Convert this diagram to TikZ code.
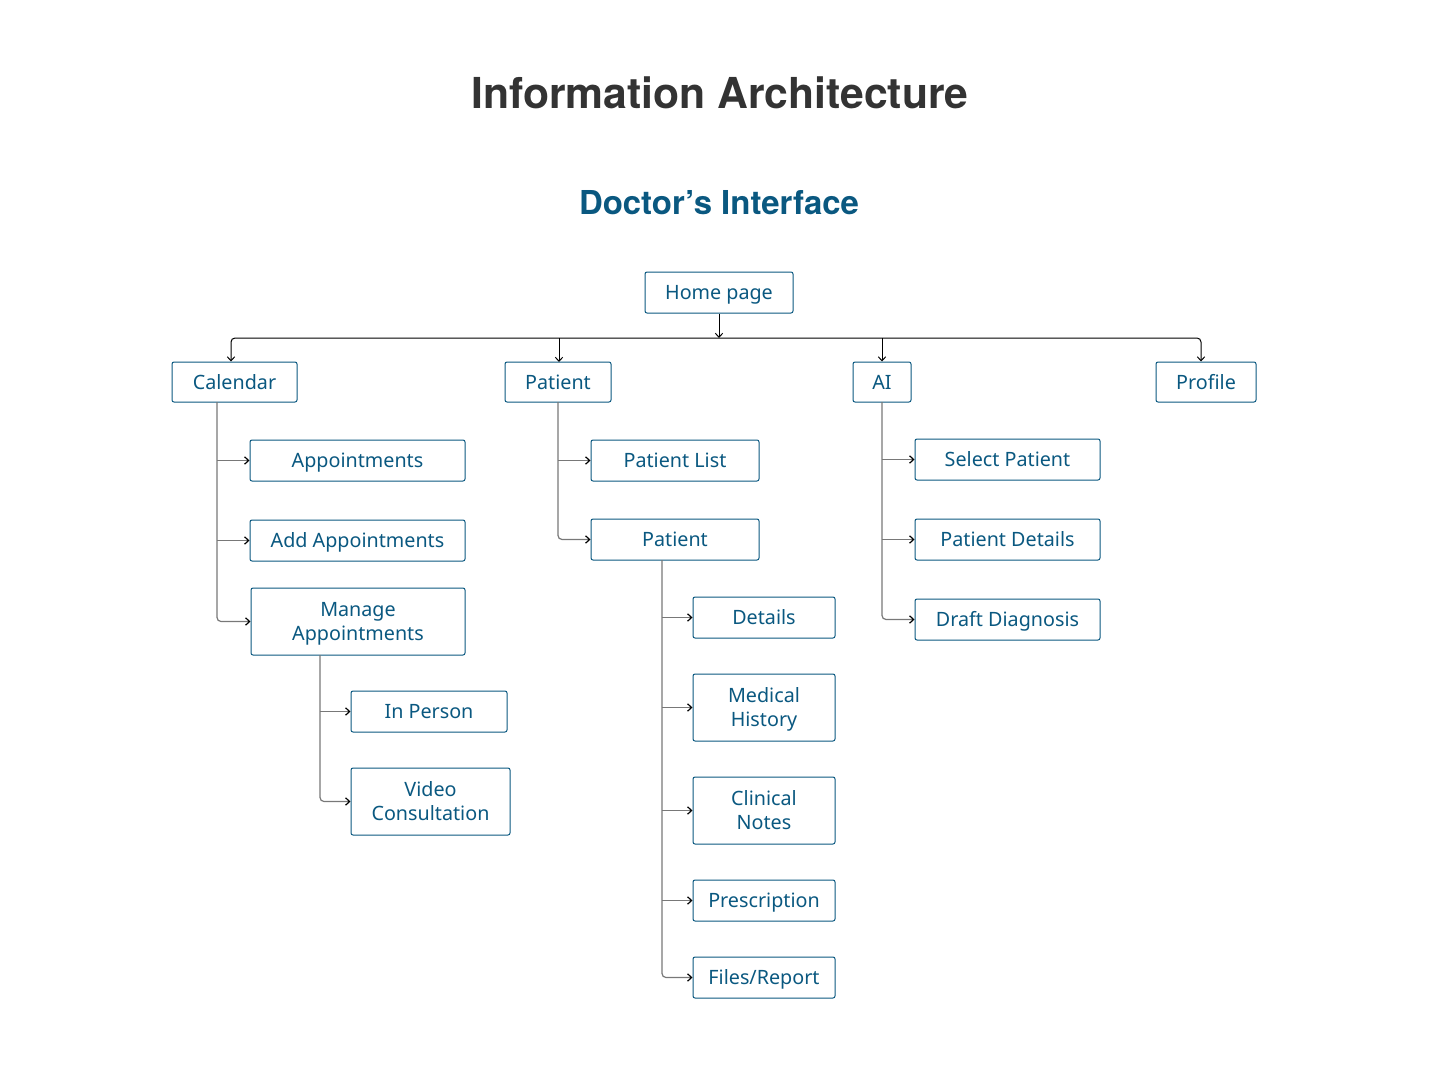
\documentclass[tikz,border=0pt]{standalone}
\usepackage{fontspec}
\setmainfont{Noto Sans}
\newfontfamily\boldsans{TeX Gyre Heros}
\usepackage{xcolor}
\usepackage{tikz}
\usetikzlibrary{arrows.meta}

\definecolor{iablue}{RGB}{10,88,128}
\definecolor{iadark}{RGB}{51,51,51}
\definecolor{iagrey}{RGB}{120,120,120}

\tikzset{
  box/.style={draw=iablue, line width=0.75pt, rounded corners=1.5pt, text=iablue, align=center,
    minimum height=30.75pt, inner sep=0pt, font=\fontsize{14.8}{18}\selectfont,
    text height=10.6pt, text depth=0pt},
  tall/.style={minimum height=50.25pt, text height=28.6pt, text depth=0pt},
  bus/.style={draw=black, line width=0.75pt, rounded corners=3pt, arrows={-Straight Barb[length=3pt,width=5.5pt]}},
  branch/.style={draw=iagrey, line width=0.9pt, rounded corners=3pt, arrows={-Straight Barb[length=3pt,width=5.5pt,color=black]}}
}

\begin{document}
\begin{tikzpicture}[x=0.75pt, y=-0.75pt]
\useasboundingbox (0,0) rectangle (1440,1067);
\node (title) at (720,93) [text=iadark, font=\fontsize{32}{38}\boldsans\bfseries] {Information Architecture};
\node (sub) at (719,203) [text=iablue, font=\fontsize{24.7}{29}\boldsans\bfseries] {Doctor’s Interface};

\node (home) at (719,292.5) [box, minimum width=111pt] {Home page};
\node (cal) at (234.5,382) [box, minimum width=93.75pt, minimum height=30pt] {Calendar};
\node (pat) at (558,382) [box, minimum width=79.5pt, minimum height=30pt] {Patient};
\node (ai) at (882,382) [box, minimum width=43.5pt, minimum height=30pt] {AI};
\node (prof) at (1206,382) [box, minimum width=75pt, minimum height=30pt] {Profile};

% calendar
\node (appt) at (357.5,460.5) [box, minimum width=161.25pt] {Appointments};
\node (addappt) at (357.5,540.5) [box, minimum width=161.25pt] {Add Appointments};
\node (manage) at (358,621.5) [box, tall, minimum width=160.5pt] {Manage\\Appointments};
\node (person) at (429,711.5) [box, minimum width=117pt] {In Person};
\node (video) at (430.5,801.5) [box, tall, minimum width=119.25pt] {Video\\Consultation};

% patient
\node (plist) at (675,460.5) [box, minimum width=126pt] {Patient List};
\node (pat2) at (675,539.5) [box, minimum width=126pt] {Patient};
\node (det) at (764,617.5) [box, minimum width=106.5pt] {Details};
\node (hist) at (764,707.5) [box, tall, minimum width=106.5pt] {Medical\\History};
\node (notes) at (764,810.5) [box, tall, minimum width=106.5pt] {Clinical\\Notes};
\node (presc) at (764,900.5) [box, minimum width=106.5pt] {Prescription};
\node (files) at (764,977.5) [box, minimum width=106.5pt] {Files/Report};

% ai
\node (sel) at (1007.5,459.5) [box, minimum width=138.75pt] {Select Patient};
\node (pdet) at (1007.5,539.5) [box, minimum width=138.75pt] {Patient Details};
\node (draft) at (1007.5,619.5) [box, minimum width=138.75pt] {Draft Diagnosis};

\coordinate (busL) at (231,338);
\coordinate (busR) at (1201,338);
\draw[bus] (home.south) -- (home.south |- busL);
\draw[bus, arrows={Straight Barb[length=3pt,width=5.5pt]-Straight Barb[length=3pt,width=5.5pt]}] (cal.north -| busL) |- (busR) -- (prof.north -| busR);
\draw[bus] (559,338) -- (559,362);
\draw[bus] (ai.north |- busL) -- (ai.north);

\coordinate (calT) at (217,402);
\draw[branch] (calT) |- (manage.west);
\draw[branch] (calT |- appt.west) -- (appt.west);
\draw[branch] (calT |- addappt.west) -- (addappt.west);

\coordinate (manT) at (320,655);
\draw[branch] (manT) |- (video.west);
\draw[branch] (manT |- person.west) -- (person.west);

\coordinate (patT) at (558,402);
\draw[branch] (patT) |- (pat2.west);
\draw[branch] (patT |- plist.west) -- (plist.west);

\coordinate (pat2T) at (662,560);
\draw[branch] (pat2T) |- (files.west);
\draw[branch] (pat2T |- det.west) -- (det.west);
\draw[branch] (pat2T |- hist.west) -- (hist.west);
\draw[branch] (pat2T |- notes.west) -- (notes.west);
\draw[branch] (pat2T |- presc.west) -- (presc.west);

\coordinate (aiT) at (882,402);
\draw[branch] (aiT) |- (draft.west);
\draw[branch] (aiT |- sel.west) -- (sel.west);
\draw[branch] (aiT |- pdet.west) -- (pdet.west);
\end{tikzpicture}
\end{document}
